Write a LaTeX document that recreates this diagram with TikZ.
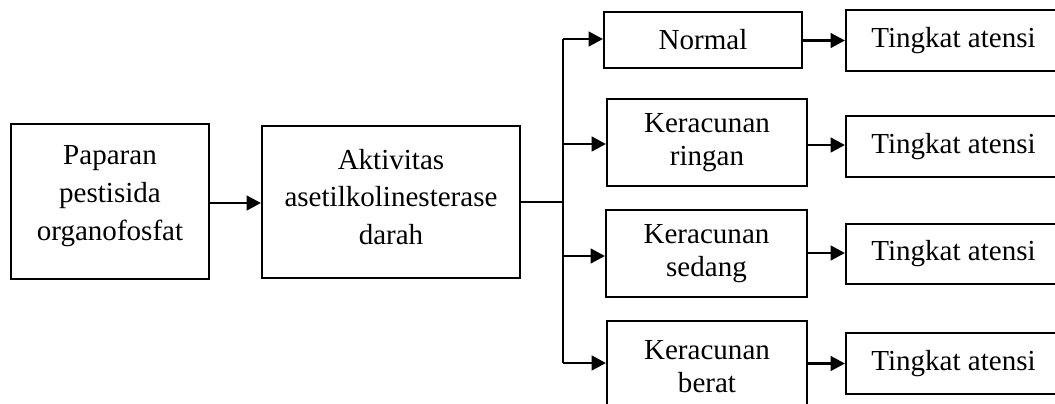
\documentclass[tikz,border=0pt]{standalone}
\usepackage{fontspec}
\setmainfont{Liberation Serif}
\usetikzlibrary{arrows.meta,calc}
\begin{document}
\begin{tikzpicture}[x=0.42pt,y=-0.42pt,
  box/.style={draw,line width=0.95pt,align=center,inner sep=0pt,anchor=center},
  bigtext/.style={font=\fontsize{12.2}{15.8}\selectfont,align=center,inner sep=0pt},
  smalltext/.style={font=\fontsize{12.2}{13.9}\selectfont},
  arr/.style={line width=0.95pt,-{Triangle[length=6pt,width=6.2pt]}},
  ln/.style={line width=0.95pt}]
\useasboundingbox (0,0) rectangle (1055,403);
\clip (0,0) rectangle (1055,403);
\node[box,minimum width=198*0.42pt,minimum height=155*0.42pt] (p) at (110,201.5) {};
\node[bigtext] (pt) at (110,196) {Paparan\\pestisida\\organofosfat};
\node[box,minimum width=258*0.42pt,minimum height=152*0.42pt] (a) at (391,202) {};
\node[bigtext] (at) at (391,197) {Aktivitas\\asetilkolinesterase\\darah};
\node[box,smalltext,minimum width=198*0.42pt,minimum height=56*0.42pt] (n1) at (703,40) {Normal};
\node[box,smalltext,minimum width=200*0.42pt,minimum height=87*0.42pt] (n2) at (707,142.5) {Keracunan\\ringan};
\node[box,smalltext,minimum width=201*0.42pt,minimum height=87*0.42pt] (n3) at (706.5,253.5) {Keracunan\\sedang};
\node[box,minimum width=200*0.42pt,minimum height=100*0.42pt] (n4) at (707,371) {};
\node[smalltext,align=center,inner sep=0pt] (n4t) at (707,367) {Keracunan\\berat};
\node[box,smalltext,minimum width=215*0.42pt,minimum height=61*0.42pt] (t1) at (953.5,40.5) {Tingkat atensi};
\node[box,smalltext,minimum width=215*0.42pt,minimum height=61*0.42pt] (t2) at (953.5,146.5) {Tingkat atensi};
\node[box,smalltext,minimum width=215*0.42pt,minimum height=60*0.42pt] (t3) at (953.5,254) {Tingkat atensi};
\node[box,smalltext,minimum width=215*0.42pt,minimum height=61*0.42pt] (t4) at (953.5,363.5) {Tingkat atensi};
\draw[arr] (p.east |- 0,203) -- (a.west |- 0,203);
\coordinate (j) at (563,202);
\coordinate (y1) at (0,39);
\coordinate (y2) at (0,144);
\coordinate (y3) at (0,256);
\coordinate (y4) at (0,363);
\draw[ln] (a.east) -- (j);
\draw[ln] (j |- y1) -- (j |- y4);
\draw[arr] (j |- y1) -- (n1.west |- y1);
\draw[arr] (j |- y2) -- (n2.west |- y2);
\draw[arr] (j |- y3) -- (n3.west |- y3);
\draw[arr] (j |- y4) -- (n4.west |- y4);
\draw[arr] (n1.east |- t1.west) -- (t1.west);
\draw[arr] (n2.east |- 0,145) -- (t2.west |- 0,145);
\draw[arr] (n3.east |- 0,253) -- (t3.west |- 0,253);
\draw[arr] (n4.east |- t4.west) -- (t4.west);
\end{tikzpicture}
\end{document}
